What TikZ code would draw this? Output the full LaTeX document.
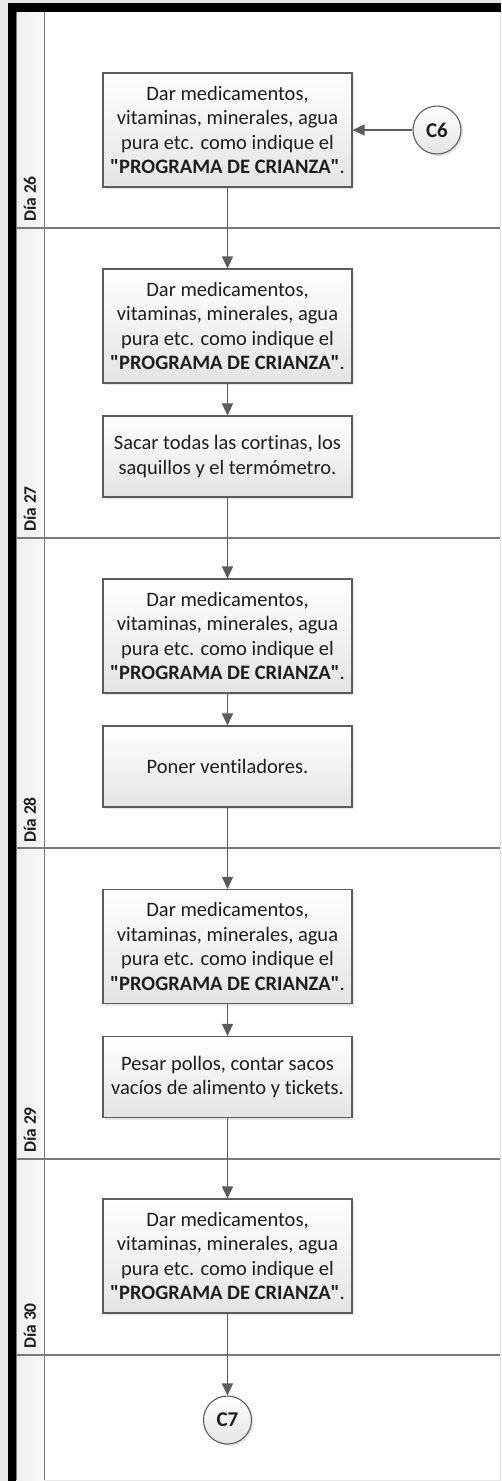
\documentclass[tikz,border=0pt]{standalone}
\usepackage{fontspec}
\setmainfont{Carlito}[Ligatures={TeXOff,NoCommon}]
\usepackage{tikz}
\usetikzlibrary{arrows.meta,positioning,shadows}
\definecolor{LineGray}{HTML}{5C5C5C}
\definecolor{LaneGray}{HTML}{7A7A7A}
\definecolor{TextDark}{HTML}{1E1E1E}
\definecolor{BoxBottom}{HTML}{E4E4E4}
\definecolor{HeadLeft}{HTML}{EFEFEF}
\definecolor{HeadRight}{HTML}{F8F8F8}
\definecolor{EdgeGray}{HTML}{E6E6E6}

\begin{document}
\begin{tikzpicture}[x=1pt,y=1pt,
  box/.style={draw=LineGray,line width=1.1pt,top color=white,bottom color=BoxBottom,drop shadow={shadow xshift=2pt,shadow yshift=-2pt,opacity=0.2},minimum width=249pt,minimum height=114pt,inner sep=0pt,align=center,text=TextDark,font=\fontsize{20.5}{24.5}\selectfont},
  boxlow/.style={box,minimum height=81pt},
  conn/.style={circle,draw=LineGray,line width=1.1pt,top color=white,bottom color=BoxBottom,drop shadow={shadow xshift=2pt,shadow yshift=-2pt,opacity=0.2},minimum size=48pt,inner sep=0pt,text=TextDark,font=\fontsize{21}{24}\selectfont\bfseries},
  day/.style={rotate=90,anchor=west,inner sep=0pt,text=TextDark,font=\fontsize{17.5}{20}\selectfont\bfseries},
  lane/.style={draw=LaneGray,line width=1.2pt},
  arrow/.style={-{Triangle[length=12pt,width=11pt]},line width=1.2pt,draw=LineGray}
]
\useasboundingbox (0,0) rectangle (501,-1481);
% frame and lanes
\fill[EdgeGray] (0,0) rectangle (501,-1481);
\fill[white] (17,-12) rectangle (500,-1480);
\shade[left color=HeadLeft,right color=HeadRight] (17,-12) rectangle (44,-1480);
\fill[black] (8,-3) rectangle (501,-12);
\fill[black] (8,-3) rectangle (16,-1481);
\draw[lane] (16.5,-12) -- (16.5,-1480);
\draw[lane] (44.5,-12) -- (44.5,-1480);
\draw[lane] (17,-228) -- (500,-228);
\draw[lane] (17,-538) -- (500,-538);
\draw[lane] (17,-848) -- (500,-848);
\draw[lane] (17,-1159) -- (500,-1159);
\draw[lane] (17,-1355) -- (500,-1355);
\node[day] (lbl26) at (30,-222) {Día 26};
\node[day] (lbl27) at (30,-532) {Día 27};
\node[day] (lbl28) at (30,-843) {Día 28};
\node[day] (lbl29) at (30,-1153) {Día 29};
\node[day] (lbl30) at (30,-1349) {Día 30};
% steps
\node[box] (med26) at (227.5,-130) {Dar medicamentos,\\vitaminas, minerales, agua\\pura etc. como indique el\\\textbf{"PROGRAMA DE CRIANZA"}.};
\node[conn] (c6) at (437,-130) {C6};
\node[box] (med27) at (227.5,-326) {Dar medicamentos,\\vitaminas, minerales, agua\\pura etc. como indique el\\\textbf{"PROGRAMA DE CRIANZA"}.};
\node[boxlow] (sacar) at (227.5,-456.5) {Sacar todas las cortinas, los\\saquillos y el termómetro.};
\node[box] (med28) at (227.5,-636) {Dar medicamentos,\\vitaminas, minerales, agua\\pura etc. como indique el\\\textbf{"PROGRAMA DE CRIANZA"}.};
\node[boxlow] (ventil) at (227.5,-766.5) {Poner ventiladores.};
\node[box] (med29) at (227.5,-946.5) {Dar medicamentos,\\vitaminas, minerales, agua\\pura etc. como indique el\\\textbf{"PROGRAMA DE CRIANZA"}.};
\node[boxlow] (pesar) at (227.5,-1077) {Pesar pollos, contar sacos\\vacíos de alimento y tickets.};
\node[box] (med30) at (227.5,-1256) {Dar medicamentos,\\vitaminas, minerales, agua\\pura etc. como indique el\\\textbf{"PROGRAMA DE CRIANZA"}.};
\node[conn] (c7) at (227.5,-1420) {C7};
% connectors
\draw[arrow] (c6)--(med26);
\draw[arrow] (med26)--(med27);
\draw[arrow] (med27)--(sacar);
\draw[arrow] (sacar)--(med28);
\draw[arrow] (med28)--(ventil);
\draw[arrow] (ventil)--(med29);
\draw[arrow] (med29)--(pesar);
\draw[arrow] (pesar)--(med30);
\draw[arrow] (med30)--(c7);
\end{tikzpicture}
\end{document}
